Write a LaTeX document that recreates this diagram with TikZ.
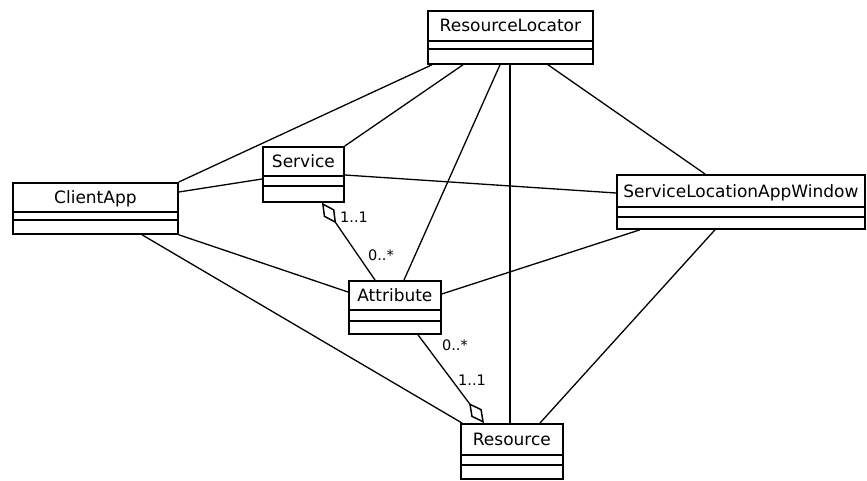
\documentclass[tikz,border=0pt]{standalone}
\usepackage{fontspec}
\setmainfont{DejaVu Sans}
\usetikzlibrary{arrows.meta}

% \umlclass{id}{left}{top}{width}{height}{first divider}{second divider}{name}
% dividers are measured down from the top edge
\newcommand\umlclass[8]{%
  \node[classbox, minimum width=#4pt, minimum height=#5pt] (#1) at (#2,#3) {};
  \draw[boxline] ([yshift=-#6pt]#1.north west) -- ([yshift=-#6pt]#1.north east);
  \draw[boxline] ([yshift=-#7pt]#1.north west) -- ([yshift=-#7pt]#1.north east);
  \node[classname] (#1-name) at ([yshift={-#6pt/2-6.5pt}]#1.north) {#8};
}

\begin{document}
\begin{tikzpicture}[x=1pt, y=-1pt,
  boxline/.style={line width=1.8pt},
  classbox/.style={draw, boxline, fill=white, inner sep=0pt, anchor=north west},
  classname/.style={font=\fontsize{17}{17}\selectfont, inner sep=0pt, anchor=base},
  assoc/.style={line width=1.3pt},
  aggr/.style={assoc, {Diamond[open, length=25pt, width=13pt, line width=1.5pt]}-},
  mult/.style={font=\fontsize{14.5}{14.5}\selectfont, inner sep=0pt}]

\useasboundingbox (0,0) rectangle (867,481);
\fill[white] (0,0) rectangle (867,481);

% classes
\umlclass{rl}{427}{10}{165}{53}{31}{39}{ResourceLocator}
\umlclass{ca}{12}{182}{165}{51}{30}{38}{ClientApp}
\umlclass{svc}{262}{146}{81}{55}{30}{40}{Service}
\umlclass{slaw}{616}{174}{248}{54}{33}{43}{ServiceLocationAppWindow}
\umlclass{attr}{348}{280}{92}{53}{30}{41}{Attribute}
\umlclass{res}{460}{423}{102}{55}{32}{42}{Resource}

% associations to ResourceLocator
\draw[assoc] (ca.north east) -- ([xshift=5pt]rl.south west);
\draw[assoc] (svc.north east) -- ([xshift=36pt]rl.south west);
\draw[assoc] ([xshift=56pt]attr.north west) -- ([xshift=73pt]rl.south west);
\draw[assoc] ([xshift=50pt]res.north west) -- ([xshift=83pt]rl.south west);
\draw[assoc] ([xshift=89pt]slaw.north west) -- ([xshift=121pt]rl.south west);

% other associations
\draw[assoc] ([yshift=-10pt]ca.north east) -- ([yshift=-33pt]svc.north west);
\draw[assoc] ([yshift=-29pt]svc.north east) -- ([yshift=-19pt]slaw.north west);
\draw[assoc] (ca.south east) -- ([yshift=-12pt]attr.north west);
\draw[assoc] ([xshift=130pt]ca.south west) -- ([xshift=2pt]res.north west);
\draw[assoc] ([yshift=-14pt]attr.north east) -- ([xshift=24pt]slaw.south west);
\draw[assoc] ([xshift=99pt]slaw.south west) -- ([xshift=80pt]res.north west);

% aggregations
\draw[aggr] ([xshift=60pt]svc.south west) -- ([xshift=27pt]attr.north west);
\draw[aggr] ([xshift=24pt]res.north west) -- ([xshift=70pt]attr.south west);

% multiplicities
\node[mult] (m1) at (354,217) {1..1};
\node[mult] (m2) at (381,255) {0..*};
\node[mult] (m3) at (455,345) {0..*};
\node[mult] (m4) at (472,380) {1..1};
\end{tikzpicture}
\end{document}
